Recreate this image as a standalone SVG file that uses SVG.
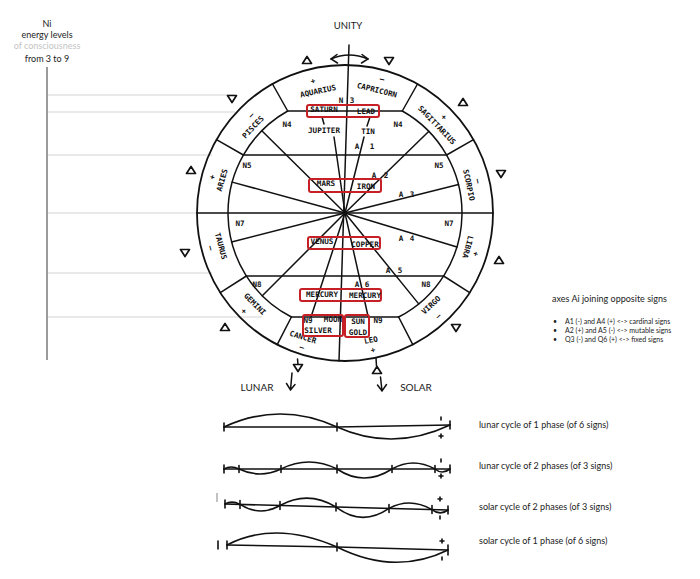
<svg xmlns="http://www.w3.org/2000/svg" width="700" height="579" viewBox="0 0 700 579">
<style>
.k{fill:none;stroke:#111;stroke-width:1.5;stroke-linecap:round}
.kt{fill:none;stroke:#111;stroke-width:1.8}
.box{fill:none;stroke:#c62026;stroke-width:2}
.m{font-family:"DejaVu Sans Mono","Liberation Mono",monospace;font-weight:bold;font-size:7.6px;fill:#111;text-anchor:middle}
.s{font-family:Lato,"Liberation Sans",sans-serif;fill:#222}
.c{text-anchor:middle}
.g1{stroke:#e2e2e2;stroke-width:1.5}
.tri{fill:#fff;stroke:#111;stroke-width:1.7;stroke-linejoin:round}
.w{fill:none;stroke:#111;stroke-width:1.6;stroke-linecap:round}
</style>
<defs>
<path id="tu" class="tri" d="M0,-3.5 L4.5,3.5 L-4.5,3.5 Z"/>
<path id="td" class="tri" d="M-4.5,-3.5 L4.5,-3.5 L0,3.5 Z"/>
</defs>
<rect width="700" height="579" fill="#fff"/>

<g id="levels-scale">
<text class="s c" x="47" y="27" font-size="9">Ni</text>
<text class="s c" x="47" y="38" font-size="9">energy levels</text>
<text class="s c" x="47" y="49" font-size="9" style="fill:#c4c4c4">of consciousness</text>
<text class="s c" x="47" y="62" font-size="9">from 3 to 9</text>
<g class="g1">
<line x1="48" y1="95" x2="235" y2="95"/>
<line x1="48" y1="112" x2="235" y2="112"/>
<line x1="48" y1="155" x2="212" y2="155"/>
<line x1="48" y1="213" x2="197" y2="213"/>
<line x1="48" y1="273" x2="212" y2="273"/>
<line x1="48" y1="317" x2="262" y2="317"/>
</g>
<line x1="47" y1="67" x2="47" y2="360" stroke="#7a7a7a" stroke-width="1.5"/>
</g>

<g id="unity">
<text class="s c" x="348" y="29" font-size="9.5">UNITY</text>
</g>

<g id="wheel">
<circle cx="345" cy="213" r="148" class="kt"/>
<path class="k" d="M287.7,111 A117,117 0 0 0 291.4,317 M402.3,111 A117,117 0 0 1 398.6,317"/>
<path class="k" d="M287.7,111 H402.3 M243.4,155 H446.6 M197,213 H493 M246.4,276 H443.6 M291.4,317 H398.6"/>
<path class="k" d="M287.7,111 L272.5,84 M402.3,111 L417.5,84 M243.4,155 L216.5,139.6 M446.6,155 L473.5,139.6 M246.4,276 L220.3,292.7 M443.6,276 L469.7,292.7 M291.4,317 L277.2,344.6 M398.6,317 L412.8,344.6"/>
</g>

<g id="connectors" class="k">
<line x1="345" y1="213" x2="261.8" y2="130.8"/>
<line x1="345" y1="213" x2="334" y2="137"/>
<line x1="322" y1="117" x2="324" y2="124"/>
<line x1="345" y1="213" x2="364" y2="137"/>
<line x1="370" y1="117" x2="367" y2="126"/>
<line x1="345" y1="213" x2="428.9" y2="131.3"/>
<line x1="345" y1="213" x2="458.5" y2="184.6"/>
<line x1="345" y1="213" x2="232.2" y2="182.1"/>
<line x1="345" y1="213" x2="231.6" y2="242"/>
<line x1="345" y1="213" x2="457" y2="247"/>
<line x1="345" y1="213" x2="262.3" y2="295.7"/>
<line x1="345" y1="213" x2="311" y2="317"/>
<line x1="345" y1="213" x2="368" y2="316"/>
<line x1="345" y1="213" x2="418.7" y2="303.9"/>
<line x1="349" y1="45" x2="339" y2="361"/>
<path d="M331,59 Q349,51 368,59"/>
<path d="M337,54.5 L331,59 L337.5,63 M362,54.5 L368,59 L361.5,63"/>
<path d="M297.5,359 L298,364.5 M376,358 L376.5,366"/>
<path d="M292,373 L290.5,390 M286.5,383.5 L290.5,390 L295,384.5"/>
<path d="M380.5,377 L382,391 M377.5,385 L382,391 L386.5,384.5"/>
</g>

<g id="sign-aquarius">
<text class="m" transform="translate(318,91) rotate(-12)" y="2.7">AQUARIUS</text>
<text class="m" transform="translate(313,81) rotate(-12)" y="2.7">+</text>
<use href="#tu" x="307" y="60"/>
</g>
<g id="sign-capricorn">
<text class="m" transform="translate(377,90) rotate(14)" y="2.7">CAPRICORN</text>
<text class="m" transform="translate(382,79) rotate(14)" y="2.7">–</text>
<use href="#td" x="389" y="61"/>
</g>
<g id="sign-sagittarius">
<text class="m" transform="translate(437,125) rotate(46)" y="2.7">SAGITTARIUS</text>
<text class="m" transform="translate(444,117) rotate(46)" y="2.7">+</text>
<use href="#tu" x="463" y="102"/>
</g>
<g id="sign-scorpio">
<text class="m" transform="translate(469,185) rotate(78)" y="2.7">SCORPIO</text>
<text class="m" transform="translate(478,181) rotate(78)" y="2.7">–</text>
<use href="#td" x="501" y="174"/>
</g>
<g id="sign-libra">
<text class="m" transform="translate(468,247) rotate(105)" y="2.7">LIBRA</text>
<text class="m" transform="translate(476,254) rotate(105)" y="2.7">+</text>
<use href="#tu" x="499" y="260"/>
</g>
<g id="sign-virgo">
<text class="m" transform="translate(431,305) rotate(-43)" y="2.7">VIRGO</text>
<text class="m" transform="translate(438,316) rotate(-43)" y="2.7">–</text>
<use href="#td" x="456" y="328"/>
</g>
<g id="sign-leo">
<text class="m" transform="translate(371,340) rotate(-12)" y="2.7">LEO</text>
<text class="m" transform="translate(373,350) rotate(-12)" y="2.7">+</text>
<use href="#tu" x="377" y="370"/>
</g>
<g id="sign-cancer">
<text class="m" transform="translate(303,337) rotate(17)" y="2.7">CANCER</text>
<text class="m" transform="translate(302,347) rotate(17)" y="2.7">–</text>
<use href="#td" x="298" y="368"/>
</g>
<g id="sign-gemini">
<text class="m" transform="translate(255,304) rotate(45)" y="2.7">GEMINI</text>
<text class="m" transform="translate(244,311) rotate(45)" y="2.7">+</text>
<use href="#tu" x="225" y="327"/>
</g>
<g id="sign-taurus">
<text class="m" transform="translate(221,246) rotate(75)" y="2.7">TAURUS</text>
<text class="m" transform="translate(211,248) rotate(75)" y="2.7">–</text>
<use href="#td" x="185" y="253"/>
</g>
<g id="sign-aries">
<text class="m" transform="translate(222,180) rotate(-74)" y="2.7">ARIES</text>
<text class="m" transform="translate(212,177) rotate(-74)" y="2.7">+</text>
<use href="#tu" x="191" y="170"/>
</g>
<g id="sign-pisces">
<text class="m" transform="translate(253,127) rotate(-47)" y="2.7">PISCES</text>
<text class="m" transform="translate(251,115) rotate(-47)" y="2.7">–</text>
<use href="#td" x="232" y="99"/>
</g>

<g id="level-labels">
<text class="m" x="341" y="103">N</text><text class="m" x="352" y="103">3</text>
<text class="m" x="287" y="127">N4</text><text class="m" x="398" y="127">N4</text>
<text class="m" x="247" y="168">N5</text><text class="m" x="439" y="168">N5</text>
<text class="m" x="240" y="226">N7</text><text class="m" x="449" y="226">N7</text>
<text class="m" x="257" y="287">N8</text><text class="m" x="426" y="287">N8</text>
</g>

<g id="axis-labels">
<text class="m" x="357" y="149">A</text><text class="m" x="372" y="149">1</text>
<text class="m" x="374" y="178">A</text><text class="m" x="386" y="178">2</text>
<text class="m" x="401" y="197">A</text><text class="m" x="412" y="197">3</text>
<text class="m" x="401" y="241">A</text><text class="m" x="412" y="241">4</text>
<text class="m" x="388" y="273">A</text><text class="m" x="400" y="273">5</text>
<text class="m" x="357" y="287">A</text><text class="m" x="367" y="287">6</text>
</g>

<g id="planet-jupiter-tin">
<text class="m" x="324" y="133">JUPITER</text>
<text class="m" x="368" y="134">TIN</text>
</g>
<g id="pair-saturn-lead">
<rect class="box" x="307" y="105" width="72" height="12" rx="2"/>
<text class="m" x="324" y="111.5">SATURN</text>
<text class="m" x="366" y="114">LEAD</text>
</g>
<g id="pair-mars-iron">
<rect class="box" x="309" y="179" width="72" height="13" rx="2"/>
<text class="m" x="326" y="186">MARS</text>
<text class="m" x="366" y="189">IRON</text>
</g>
<g id="pair-venus-copper">
<rect class="box" x="308" y="237" width="72" height="12" rx="2"/>
<text class="m" x="322" y="244">VENUS</text>
<text class="m" x="365" y="247">COPPER</text>
</g>
<g id="pair-mercury">
<rect class="box" x="300" y="289" width="81" height="12" rx="2"/>
<text class="m" x="322" y="297">MERCURY</text>
<text class="m" x="365" y="298">MERCURY</text>
</g>
<g id="pair-moon-silver">
<rect class="box" x="303" y="315" width="40" height="21" rx="2"/>
<text class="m" x="308" y="323">N9</text>
<text class="m" x="333" y="322">MOON</text>
<text class="m" x="318" y="333">SILVER</text>
</g>
<g id="pair-sun-gold">
<rect class="box" x="345" y="315" width="24" height="22" rx="2"/>
<text class="m" x="358" y="324">SUN</text>
<text class="m" x="358" y="335">GOLD</text>
<text class="m" x="378" y="323">N9</text>
</g>

<g id="lunar-solar">
<text class="s c" x="257" y="391" font-size="10">LUNAR</text>
<text class="s c" x="416" y="391" font-size="10">SOLAR</text>
</g>

<g id="legend">
<text class="s" x="552" y="302" font-size="9">axes Ai joining opposite signs</text>
<text class="s" x="553" y="324" font-size="7">•</text>
<text class="s" x="565" y="324" font-size="7">A1 (-) and A4 (+) &lt;-&gt; cardinal signs</text>
<text class="s" x="553" y="333" font-size="7">•</text>
<text class="s" x="565" y="333" font-size="7">A2 (+) and A5 (-) &lt;-&gt; mutable signs</text>
<text class="s" x="553" y="342" font-size="7">•</text>
<text class="s" x="565" y="342" font-size="7">Q3 (-) and Q6 (+) &lt;-&gt; fixed signs</text>
</g>

<g id="cycle-lunar-1">
<path class="w" d="M224,427 L337,427 L450,425"/>
<path class="w" d="M224,423 V431 M337,423 V431 M450,421 V429"/>
<path class="w" d="M224,427 Q280,401 337,427 Q393,452 450,425"/>
<path class="w" d="M441,417 V420 M439,436 H443 M441,434 V438"/>
<text class="s" x="479" y="428" font-size="9">lunar cycle of 1 phase (of 6 signs)</text>
</g>
<g id="cycle-lunar-2">
<path class="w" d="M224,469 H450"/>
<path class="w" d="M224,465 V473 M239,465.5 V472.5 M281,465.5 V472.5 M337,465 V473 M392,465.5 V472.5 M435,465.5 V472.5 M450,465 V473"/>
<path class="w" d="M224,469 Q231,465 239,469 Q260,479 281,469 Q309,455 337,469 Q364,487 392,469 Q413,457 435,469 Q442,475 450,469"/>
<path class="w" d="M441,459 V462 M439,476 H443 M441,474 V478"/>
<text class="s" x="479" y="469" font-size="9">lunar cycle of 2 phases (of 3 signs)</text>
</g>
<g id="cycle-solar-2">
<path class="w" d="M225,504 L448,510"/>
<path class="w" d="M225,500 V508 M240,500.5 V508.5 M280,501.5 V509.5 M336,503 V511 M389,504.5 V512.5 M432,505.5 V513.5 M448,506 V514"/>
<path class="w" d="M225,504 Q232,500 240,504.4 Q260,517 280,505.5 Q308,490 336,507 Q362,527 389,508.4 Q410,497 432,509.6 Q440,516 448,510"/>
<path class="w" d="M438,499 H442 M440,497 V501 M440,516 V519"/>
<path d="M217,493 V502" stroke="#999" stroke-width="1.2"/>
<text class="s" x="479" y="510" font-size="9">solar cycle of 2 phases (of 3 signs)</text>
</g>
<g id="cycle-solar-1">
<path class="w" d="M227,545 L337,547 L448,550"/>
<path class="w" d="M218,541 V549 M227,541 V549 M337,543 V551 M448,545 V555"/>
<path class="w" d="M227,545 Q275,520 337,547 Q395,576 448,550"/>
<path class="w" d="M440,541 H444 M442,539 V543 M442,557 V560"/>
<text class="s" x="479" y="544" font-size="9">solar cycle of 1 phase (of 6 signs)</text>
</g>
</svg>
